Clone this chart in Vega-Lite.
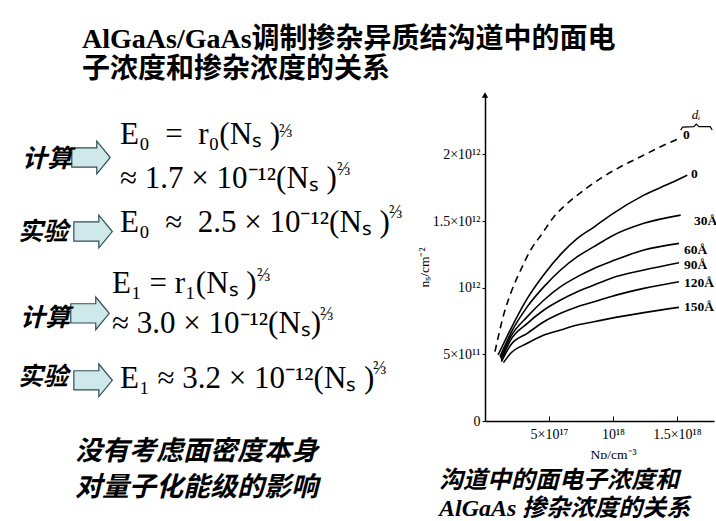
{
  "$schema": "https://vega.github.io/schema/vega-lite/v6.json",
  "background": "white",
  "padding": {"left": 0, "top": 26, "right": 0, "bottom": 0},
  "title": {
    "text": ["AlGaAs/GaAs调制掺杂异质结沟道中的面电", "子浓度和掺杂浓度的关系"],
    "anchor": "start",
    "dx": 82,
    "font": "Liberation Serif, Noto Sans CJK SC",
    "fontSize": 28,
    "fontWeight": "bold",
    "lineHeight": 30,
    "offset": 8,
    "color": "black"
  },
  "config": {"view": {"stroke": null}},
  "spacing": 7,
  "hconcat": [
    {
      "width": 410,
      "height": 424,
      "data": {"values": [
        {"kind": "label", "text": "计算", "x": 5.37, "y": 15.0},
        {"kind": "arrow", "x": 22.2, "y": 14.74},
        {"kind": "formula", "text": "E₀\u2002=\u2002r₀(Nₛ )", "x": 29.27, "y": 9.55},
        {"kind": "exp", "text": "⅔", "x": 68.05, "y": 8.84},
        {"kind": "formula", "text": "≈ 1.7 × 10⁻¹²(Nₛ )", "x": 29.27, "y": 19.7},
        {"kind": "exp", "text": "⅔", "x": 82.2, "y": 17.8},
        {"kind": "label", "text": "实验", "x": 4.39, "y": 32.4},
        {"kind": "arrow", "x": 22.7, "y": 32.2},
        {"kind": "formula", "text": "E₀\u2002≈\u20022.5 × 10⁻¹²(Nₛ )", "x": 29.27, "y": 30.3},
        {"kind": "exp", "text": "⅔", "x": 94.88, "y": 27.8},
        {"kind": "formula", "text": "E₁ = r₁(Nₛ )", "x": 27.32, "y": 44.5},
        {"kind": "exp", "text": "⅔", "x": 62.68, "y": 42.6},
        {"kind": "label", "text": "计算", "x": 4.88, "y": 52.5},
        {"kind": "arrow", "x": 21.95, "y": 51.5},
        {"kind": "formula", "text": "≈ 3.0 × 10⁻¹²(Nₛ)", "x": 27.32, "y": 53.9},
        {"kind": "exp", "text": "⅔", "x": 78.05, "y": 52.0},
        {"kind": "label", "text": "实验", "x": 4.39, "y": 66.4},
        {"kind": "arrow", "x": 22.7, "y": 67.3},
        {"kind": "formula", "text": "E₁ ≈ 3.2 × 10⁻¹²(Nₛ )", "x": 29.27, "y": 66.9},
        {"kind": "exp", "text": "⅔", "x": 90.98, "y": 64.7},
        {"kind": "note", "text": "没有考虑面密度本身", "x": 18.29, "y": 84.1},
        {"kind": "note", "text": "对量子化能级的影响", "x": 18.29, "y": 92.6}
      ]},
      "encoding": {
        "x": {"field": "x", "type": "quantitative", "scale": {"domain": [0, 100], "nice": false}, "axis": null},
        "y": {"field": "y", "type": "quantitative", "scale": {"domain": [0, 100], "nice": false, "reverse": true}, "axis": null}
      },
      "layer": [
        {
          "transform": [{"filter": "datum.kind === 'arrow'"}],
          "mark": {"type": "point", "shape": "M -1 -0.5 L 0.3 -0.5 L 0.3 -0.85 L 1 0 L 0.3 0.85 L 0.3 0.5 L -1 0.5 Z", "size": 1480, "filled": true, "color": "#cfe8ea", "stroke": "#2f4f55", "strokeWidth": 1.2, "opacity": 1}
        },
        {
          "transform": [{"filter": "datum.kind === 'label'"}],
          "mark": {"type": "text", "align": "left", "baseline": "middle", "font": "Noto Sans CJK SC", "fontSize": 25, "fontWeight": "bold", "fontStyle": "italic", "color": "black"},
          "encoding": {"text": {"field": "text"}}
        },
        {
          "transform": [{"filter": "datum.kind === 'formula'"}],
          "mark": {"type": "text", "align": "left", "baseline": "middle", "font": "Liberation Serif", "fontSize": 31, "color": "black"},
          "encoding": {"text": {"field": "text"}}
        },
        {
          "transform": [{"filter": "datum.kind === 'exp'"}],
          "mark": {"type": "text", "align": "left", "baseline": "middle", "font": "Liberation Serif", "fontSize": 18, "color": "black"},
          "encoding": {"text": {"field": "text"}}
        },
        {
          "transform": [{"filter": "datum.kind === 'note'"}],
          "mark": {"type": "text", "align": "left", "baseline": "middle", "font": "Noto Sans CJK SC", "fontSize": 27, "fontWeight": "bold", "fontStyle": "italic", "color": "black"},
          "encoding": {"text": {"field": "text"}}
        }
      ]
    },
    {
      "width": 229,
      "height": 326,
      "title": {
        "text": ["沟道中的面电子浓度和", "AlGaAs 掺杂浓度的关系"],
        "orient": "bottom",
        "anchor": "start",
        "frame": "group",
        "dx": -46,
        "font": "Liberation Serif, Noto Sans CJK SC",
        "fontSize": 24,
        "fontWeight": "bold",
        "fontStyle": "italic",
        "lineHeight": 28,
        "offset": 8,
        "color": "black"
      },
      "encoding": {
        "x": {
          "field": "nd", "type": "quantitative",
          "scale": {"domain": [0, 1.79], "nice": false, "zero": false},
          "axis": {
            "title": "Nᴅ/cm⁻³", "values": [0.5, 1, 1.5],
            "labelExpr": "datum.value == 0.5 ? '5×10¹⁷' : datum.value == 1 ? '10¹⁸' : '1.5×10¹⁸'",
            "grid": false, "domainColor": "black", "domainWidth": 1.5,
            "tickColor": "black", "tickSize": -5, "labelPadding": 11,
            "labelFont": "Liberation Serif", "labelFontSize": 14, "labelColor": "black",
            "titleFont": "Liberation Serif", "titleFontSize": 13.5, "titleFontWeight": "normal", "titleColor": "black",
            "titleX": 128, "titlePadding": 6, "labelFlush": false
          }
        },
        "y": {
          "field": "ns", "type": "quantitative",
          "scale": {"domain": [0, 2.446], "nice": false, "zero": false},
          "axis": {
            "title": "nₛ/cm⁻²", "values": [0, 0.5, 1, 1.5, 2],
            "labelExpr": "datum.value == 0 ? '0' : datum.value == 0.5 ? '5×10¹¹' : datum.value == 1 ? '10¹²' : datum.value == 1.5 ? '1.5×10¹²' : '2×10¹²'",
            "grid": false, "domainColor": "black", "domainWidth": 1.5,
            "tickColor": "black", "tickSize": 3, "labelPadding": 2,
            "labelFont": "Liberation Serif", "labelFontSize": 14, "labelColor": "black",
            "titleFont": "Liberation Serif", "titleFontSize": 13.5, "titleFontWeight": "normal", "titleColor": "black",
            "titlePadding": 1, "titleY": 172, "labelFlush": false
          }
        }
      },
      "layer": [
        {
          "data": {"values": [
            {"curve": "0 (虚线)", "nd": 0.078, "ns": 0.520},
            {"curve": "0 (虚线)", "nd": 0.149, "ns": 0.808},
            {"curve": "0 (虚线)", "nd": 0.201, "ns": 0.958},
            {"curve": "0 (虚线)", "nd": 0.279, "ns": 1.133},
            {"curve": "0 (虚线)", "nd": 0.357, "ns": 1.283},
            {"curve": "0 (虚线)", "nd": 0.448, "ns": 1.408},
            {"curve": "0 (虚线)", "nd": 0.539, "ns": 1.533},
            {"curve": "0 (虚线)", "nd": 0.644, "ns": 1.633},
            {"curve": "0 (虚线)", "nd": 0.774, "ns": 1.733},
            {"curve": "0 (虚线)", "nd": 0.904, "ns": 1.820},
            {"curve": "0 (虚线)", "nd": 1.060, "ns": 1.908},
            {"curve": "0 (虚线)", "nd": 1.216, "ns": 1.983},
            {"curve": "0 (虚线)", "nd": 1.373, "ns": 2.058},
            {"curve": "0 (虚线)", "nd": 1.503, "ns": 2.113}
          ]},
          "mark": {"type": "line", "interpolate": "monotone", "color": "black", "strokeWidth": 1.6, "strokeDash": [7, 5]},
          "encoding": {"detail": {"field": "curve"}}
        },
        {
          "data": {"values": [
            {"curve": "0", "nd": 0.102, "ns": 0.495},
            {"curve": "0", "nd": 0.201, "ns": 0.690},
            {"curve": "0", "nd": 0.331, "ns": 0.920},
            {"curve": "0", "nd": 0.461, "ns": 1.100},
            {"curve": "0", "nd": 0.591, "ns": 1.250},
            {"curve": "0", "nd": 0.722, "ns": 1.370},
            {"curve": "0", "nd": 0.852, "ns": 1.455},
            {"curve": "0", "nd": 0.982, "ns": 1.545},
            {"curve": "0", "nd": 1.242, "ns": 1.695},
            {"curve": "0", "nd": 1.451, "ns": 1.785},
            {"curve": "0", "nd": 1.581, "ns": 1.845},
            {"curve": "30Å", "nd": 0.117, "ns": 0.483},
            {"curve": "30Å", "nd": 0.201, "ns": 0.658},
            {"curve": "30Å", "nd": 0.331, "ns": 0.858},
            {"curve": "30Å", "nd": 0.461, "ns": 1.008},
            {"curve": "30Å", "nd": 0.591, "ns": 1.133},
            {"curve": "30Å", "nd": 0.722, "ns": 1.233},
            {"curve": "30Å", "nd": 0.852, "ns": 1.308},
            {"curve": "30Å", "nd": 0.982, "ns": 1.383},
            {"curve": "30Å", "nd": 1.242, "ns": 1.483},
            {"curve": "30Å", "nd": 1.529, "ns": 1.545},
            {"curve": "60Å", "nd": 0.123, "ns": 0.470},
            {"curve": "60Å", "nd": 0.201, "ns": 0.633},
            {"curve": "60Å", "nd": 0.331, "ns": 0.783},
            {"curve": "60Å", "nd": 0.461, "ns": 0.908},
            {"curve": "60Å", "nd": 0.591, "ns": 1.008},
            {"curve": "60Å", "nd": 0.722, "ns": 1.083},
            {"curve": "60Å", "nd": 0.852, "ns": 1.145},
            {"curve": "60Å", "nd": 0.982, "ns": 1.195},
            {"curve": "60Å", "nd": 1.242, "ns": 1.283},
            {"curve": "60Å", "nd": 1.516, "ns": 1.333},
            {"curve": "90Å", "nd": 0.128, "ns": 0.458},
            {"curve": "90Å", "nd": 0.201, "ns": 0.608},
            {"curve": "90Å", "nd": 0.331, "ns": 0.733},
            {"curve": "90Å", "nd": 0.461, "ns": 0.833},
            {"curve": "90Å", "nd": 0.591, "ns": 0.908},
            {"curve": "90Å", "nd": 0.722, "ns": 0.970},
            {"curve": "90Å", "nd": 0.852, "ns": 1.020},
            {"curve": "90Å", "nd": 0.982, "ns": 1.070},
            {"curve": "90Å", "nd": 1.242, "ns": 1.133},
            {"curve": "90Å", "nd": 1.516, "ns": 1.188},
            {"curve": "120Å", "nd": 0.128, "ns": 0.445},
            {"curve": "120Å", "nd": 0.201, "ns": 0.570},
            {"curve": "120Å", "nd": 0.331, "ns": 0.658},
            {"curve": "120Å", "nd": 0.461, "ns": 0.745},
            {"curve": "120Å", "nd": 0.591, "ns": 0.808},
            {"curve": "120Å", "nd": 0.722, "ns": 0.858},
            {"curve": "120Å", "nd": 0.852, "ns": 0.895},
            {"curve": "120Å", "nd": 0.982, "ns": 0.933},
            {"curve": "120Å", "nd": 1.242, "ns": 0.995},
            {"curve": "120Å", "nd": 1.516, "ns": 1.045},
            {"curve": "150Å", "nd": 0.144, "ns": 0.438},
            {"curve": "150Å", "nd": 0.201, "ns": 0.508},
            {"curve": "150Å", "nd": 0.331, "ns": 0.583},
            {"curve": "150Å", "nd": 0.461, "ns": 0.645},
            {"curve": "150Å", "nd": 0.591, "ns": 0.683},
            {"curve": "150Å", "nd": 0.722, "ns": 0.720},
            {"curve": "150Å", "nd": 0.852, "ns": 0.745},
            {"curve": "150Å", "nd": 0.982, "ns": 0.770},
            {"curve": "150Å", "nd": 1.242, "ns": 0.813},
            {"curve": "150Å", "nd": 1.516, "ns": 0.853}
          ]},
          "mark": {"type": "line", "interpolate": "monotone", "color": "black", "strokeWidth": 1.6},
          "encoding": {"detail": {"field": "curve"}}
        },
        {
          "data": {"values": [
            {"part": "brace", "nd": 1.529, "ns": 2.183},
            {"part": "brace", "nd": 1.545, "ns": 2.205},
            {"part": "brace", "nd": 1.633, "ns": 2.208},
            {"part": "brace", "nd": 1.651, "ns": 2.228},
            {"part": "brace", "nd": 1.672, "ns": 2.208},
            {"part": "brace", "nd": 1.760, "ns": 2.208},
            {"part": "brace", "nd": 1.776, "ns": 2.183}
          ]},
          "mark": {"type": "line", "color": "black", "strokeWidth": 1.2},
          "encoding": {}
        },
        {
          "data": {"values": [
            {"label": "0", "nd": 1.548, "ns": 2.145},
            {"label": "0", "nd": 1.611, "ns": 1.853},
            {"label": "30Å", "nd": 1.634, "ns": 1.50},
            {"label": "60Å", "nd": 1.556, "ns": 1.283},
            {"label": "90Å", "nd": 1.556, "ns": 1.172},
            {"label": "120Å", "nd": 1.556, "ns": 1.035},
            {"label": "150Å", "nd": 1.556, "ns": 0.855}
          ]},
          "mark": {"type": "text", "align": "left", "baseline": "middle", "font": "Liberation Serif", "fontSize": 13.5, "fontWeight": "bold", "color": "black"},
          "encoding": {"text": {"field": "label"}}
        },
        {
          "data": {"values": [{"label": "dᵢ", "nd": 1.65, "ns": 2.296}]},
          "mark": {"type": "text", "align": "center", "baseline": "middle", "font": "Liberation Serif", "fontSize": 13, "fontStyle": "italic", "color": "black"},
          "encoding": {"text": {"field": "label"}}
        },
        {
          "data": {"values": [{"part": "axis arrow", "nd": 0, "ns": 2.446}]},
          "mark": {"type": "point", "shape": "triangle-up", "size": 40, "filled": true, "color": "black", "opacity": 1}
        }
      ]
    }
  ]
}
